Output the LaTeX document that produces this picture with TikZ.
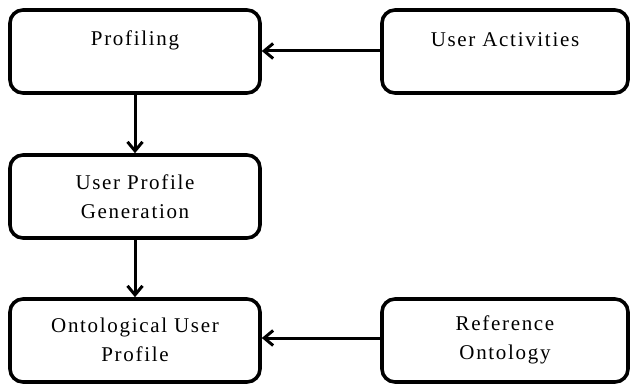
\documentclass[tikz,border=0pt]{standalone}
\usepackage{fontspec}
\setmainfont{Liberation Serif}[LetterSpace=8]
\usetikzlibrary{arrows.meta}
\begin{document}
\begin{tikzpicture}[x=1pt,y=-1pt,
  box/.style={draw=black, line width=3.6pt, rounded corners=13pt, fill=white},
  lbl/.style={font=\fontsize{21}{29}\selectfont, align=center, inner sep=0pt},
  conn/.style={draw=black, line width=3pt, arrows={-Straight Barb[length=9pt,width=15pt]}}]
\useasboundingbox (0,0) rectangle (630,385);
% boxes
\node[box, minimum width=250pt, minimum height=83pt] (prof) at (135,51.5) {};
\node[box, minimum width=246pt, minimum height=83pt] (act) at (505,51.5) {};
\node[box, minimum width=250pt, minimum height=83pt] (gen) at (135,196.5) {};
\node[box, minimum width=250pt, minimum height=83pt] (onto) at (135,340.5) {};
\node[box, minimum width=246pt, minimum height=83pt] (ref) at (505,340.5) {};
% labels
\node[lbl] (tprof) at (135,40) {Profiling};
\node[lbl] (tact) at (505,40) {User Activities};
\node[lbl] (tgen) at (135,197) {User Profile\\Generation};
\node[lbl] (tonto) at (135,340) {Ontological User\\Profile};
\node[lbl] (tref) at (505,340) {Reference\\Ontology};
% connectors
\draw[conn] (act.west |- 0,51) -- (prof.east |- 0,51);
\draw[conn] (ref.west |- 0,338) -- (onto.east |- 0,338);
\draw[conn] (prof.south) -- (gen.north);
\draw[conn] (gen.south) -- (onto.north);
\end{tikzpicture}
\end{document}
